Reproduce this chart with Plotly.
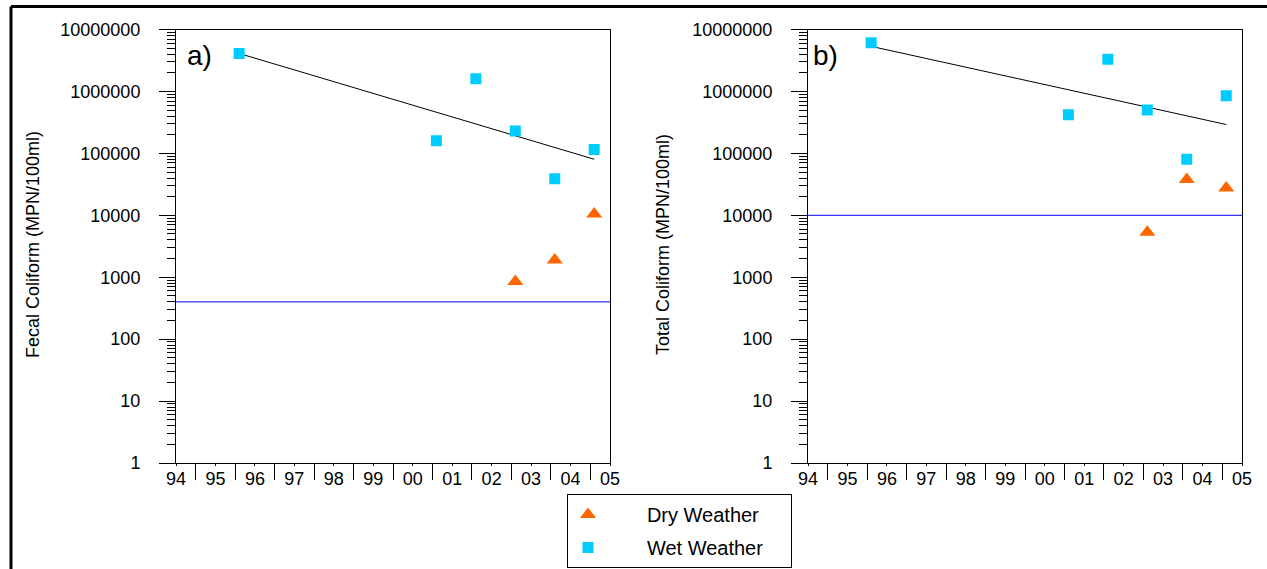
import numpy as np
import plotly.graph_objects as go

# ---------------- data ----------------
year_ticks = list(range(1994, 2006))
year_labels = ['94', '95', '96', '97', '98', '99', '00', '01', '02', '03', '04', '05']
half_year_ticks = [y + 0.5 for y in range(1994, 2005)]

wet_years = [1995.6, 2000.6, 2001.6, 2002.6, 2003.6, 2004.6]
dry_years = [2002.6, 2003.6, 2004.6]

fecal_wet = [4.1e6, 1.6e5, 1.6e6, 2.3e5, 3.9e4, 1.15e5]
fecal_dry = [850, 1900, 10500]
total_wet = [6.1e6, 4.2e5, 3.3e6, 5.0e5, 8.0e4, 8.5e5]
total_dry = [5300, 38000, 27500]

fecal_standard = 400
total_standard = 10000

y_tickvals = [1, 10, 100, 1000, 10000, 100000, 1000000, 10000000]
y_ticktext = ['1', '10', '100', '1000', '10000', '100000', '1000000', '10000000']
y_minor = [d * 10 ** e for e in range(0, 7) for d in range(2, 10)]

WET = '#00ccff'
DRY = '#ff6600'
FONT = 'Liberation Sans, Arial, sans-serif'

W, H = 1267, 569


def trend(years, vals):
    slope, inter = np.polyfit(years, np.log10(vals), 1)
    xs = np.array([min(years), max(years)])
    return xs, 10 ** (slope * xs + inter)


fig = go.Figure()

panels = [
    ('x', 'y', fecal_wet, fecal_dry, fecal_standard, True),
    ('x2', 'y2', total_wet, total_dry, total_standard, False),
]
for xa, ya, wet, dry, std, show in panels:
    tx, ty = trend(wet_years, wet)
    fig.add_trace(go.Scatter(x=tx, y=ty, mode='lines', xaxis=xa, yaxis=ya,
                             line=dict(color='black', width=1), showlegend=False,
                             hoverinfo='skip'))
    fig.add_trace(go.Scatter(x=dry_years, y=dry, mode='markers', xaxis=xa, yaxis=ya,
                             name='\u00a0' * 7 + 'Dry Weather' + '\u00a0' * 4,
                             legendgroup='dry',
                             marker=dict(symbol='triangle-up', size=14, color=DRY,
                                         line=dict(width=0)),
                             showlegend=show))
    fig.add_trace(go.Scatter(x=wet_years, y=wet, mode='markers', xaxis=xa, yaxis=ya,
                             name='\u00a0' * 7 + 'Wet Weather' + '\u00a0' * 4,
                             legendgroup='wet',
                             marker=dict(symbol='square', size=11, color=WET,
                                         line=dict(width=0)),
                             showlegend=show))
    fig.add_shape(type='line', xref=f'{xa} domain', yref=ya, x0=0, x1=1, y0=std, y1=std,
                  line=dict(color='#0000ff', width=1))

xdoms = [[176 / W, 610 / W], [808 / W, 1242 / W]]
ydom = [1 - 463 / H, 1 - 29.5 / H]

xaxis_common = dict(
    range=[1994, 2005], tickmode='array', tickvals=year_ticks, ticktext=year_labels,
    ticks='outside', ticklen=2, tickcolor='black', showline=True, linecolor='black',
    linewidth=1, mirror=True, showgrid=False, zeroline=False, automargin=False,
    tickfont=dict(family=FONT, size=18, color='black'), ticklabelstandoff=-3,
    minor=dict(tickvals=half_year_ticks, ticks='outside', ticklen=16, tickcolor='black',
               showgrid=False),
)
yaxis_common = dict(
    type='log', range=[0, 7], tickmode='array', tickvals=y_tickvals, ticktext=y_ticktext,
    ticks='outside', ticklen=16, tickcolor='black', showline=True, linecolor='black',
    linewidth=1, mirror=True, showgrid=False, zeroline=False, automargin=False,
    tickfont=dict(family=FONT, size=18, color='black'), ticklabelstandoff=15,
    minor=dict(tickvals=y_minor, ticks='outside', ticklen=8, tickcolor='black',
               showgrid=False),
)

fig.update_layout(
    width=W, height=H, margin=dict(l=0, r=0, t=0, b=0, pad=0, autoexpand=False),
    paper_bgcolor='white', plot_bgcolor='white',
    font=dict(family=FONT, color='black'),
    xaxis=dict(domain=xdoms[0], anchor='y', **xaxis_common),
    yaxis=dict(domain=ydom, anchor='x', **yaxis_common),
    xaxis2=dict(domain=xdoms[1], anchor='y2', **xaxis_common),
    yaxis2=dict(domain=ydom, anchor='x2', **yaxis_common),
    legend=dict(x=567 / W, y=1 - 494 / H, xanchor='left', yanchor='top',
                bordercolor='black', borderwidth=1, bgcolor='white',
                font=dict(family=FONT, size=20, color='black'),
                traceorder='grouped', tracegroupgap=4),
    showlegend=True,
)

# panel labels and axis titles
fig.add_annotation(text='a)', xref='paper', yref='paper', x=185 / W, y=1 - 56 / H,
                   xanchor='left', yanchor='middle', showarrow=False,
                   font=dict(family=FONT, size=28, color='black'))
fig.add_annotation(text='b)', xref='paper', yref='paper', x=811 / W, y=1 - 56 / H,
                   xanchor='left', yanchor='middle', showarrow=False,
                   font=dict(family=FONT, size=28, color='black'))
fig.add_annotation(text='Fecal Coliform (MPN/100ml)', xref='paper', yref='paper',
                   x=33 / W, y=1 - 245 / H, textangle=-90, showarrow=False,
                   xanchor='center', yanchor='middle',
                   font=dict(family=FONT, size=18, color='black'))
fig.add_annotation(text='Total Coliform (MPN/100ml)', xref='paper', yref='paper',
                   x=663 / W, y=1 - 245 / H, textangle=-90, showarrow=False,
                   xanchor='center', yanchor='middle',
                   font=dict(family=FONT, size=18, color='black'))

# outer frame (left and top edges)
fig.add_shape(type='line', xref='paper', yref='paper', x0=11 / W, x1=11 / W,
              y0=0, y1=1 - 6.5 / H, line=dict(color='black', width=3))
fig.add_shape(type='line', xref='paper', yref='paper', x0=11 / W, x1=1,
              y0=1 - 6.5 / H, y1=1 - 6.5 / H, line=dict(color='black', width=3))

fig.write_html('out.html', config={'displayModeBar': False},
               post_script="document.body.style.margin='0';document.body.style.overflow='hidden';")
